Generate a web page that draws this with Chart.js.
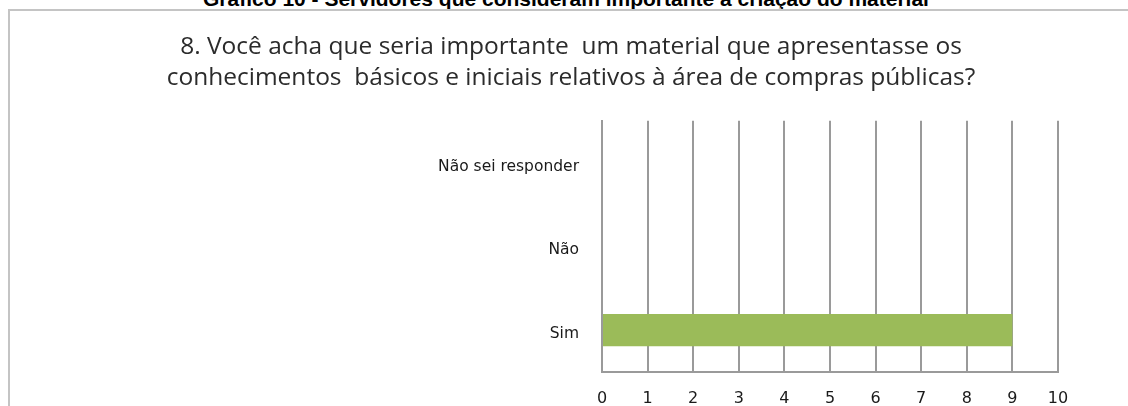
<!DOCTYPE html>
<html>
<head>
<meta charset="utf-8">
<script src="https://cdn.jsdelivr.net/npm/chart.js@4"></script>
<style>
  html, body { margin: 0; padding: 0; background: #fff; }
  body { width: 1128px; height: 406px; position: relative; overflow: hidden; }
  #heading {
    position: absolute; left: 0; width: 1128px; top: -12px;
    text-align: center; font: bold 21px "Liberation Sans", Arial, sans-serif;
    line-height: 21px; color: #000; padding-left: 2px;
  }
  #frame {
    position: absolute; left: 8px; top: 9px; width: 1140px; height: 420px;
    border: 2px solid #c4c4c4; box-sizing: border-box;
  }
  #wrap { position: absolute; left: 0; top: 0; width: 1128px; height: 406px; }
</style>
</head>
<body>
<div id="heading">Gráfico 10 - Servidores que consideram importante a criação do material</div>
<div id="frame"></div>
<div id="wrap"><canvas id="grafico"></canvas></div>
<script>
// respostas da pergunta 8
const categorias = ['Não sei responder', 'Não', 'Sim'];
const respostas = [0, 0, 9];
const ticksX = [0, 1, 2, 3, 4, 5, 6, 7, 8, 9, 10];

new Chart(document.getElementById('grafico').getContext('2d'), {
    type: 'bar',
    data: {
        labels: categorias,
        datasets: [{
            data: respostas,
            backgroundColor: '#9bbb59',
            borderWidth: 0,
            categoryPercentage: 1,
            barPercentage: 0.385
        }]
    },
    options: {
        indexAxis: 'y',
        responsive: true,
        maintainAspectRatio: false,
        animation: false,
        // padding esquerda/direita para centrar o titulo em x=571
        layout: { padding: { left: 84, right: 70, top: 0, bottom: 0 } },
        plugins: {
            legend: { display: false },
            tooltip: { enabled: false },
            title: {
                display: true,
                text: ['8. Você acha que seria importante  um material que apresentasse os',
                       'conhecimentos  básicos e iniciais relativos à área de compras públicas?'],
                font: { family: 'Open Sans', size: 24.5, weight: 'normal', lineHeight: 1.24 },
                color: '#2b2b2b',
                padding: { top: 32, bottom: 28 }
            }
        },
        scales: {
            x: {
                min: 0,
                max: 10,
                afterBuildTicks: (scale) => { scale.ticks = ticksX.map(v => ({ value: v })); },
                afterFit: (scale) => { scale.height = 34; },
                grid: { color: '#9a9a9a', lineWidth: 2, drawTicks: false },
                border: { display: true, color: '#9a9a9a', width: 2 },
                ticks: {
                    padding: 17,
                    color: '#1a1a1a',
                    font: { family: 'DejaVu Sans', size: 16 }
                }
            },
            y: {
                afterFit: (scale) => { scale.width = 518; },
                grid: { display: false, drawTicks: false },
                border: { display: true, color: '#9a9a9a', width: 2 },
                ticks: {
                    padding: 23,
                    labelOffset: 4,
                    color: '#1a1a1a',
                    font: { family: 'DejaVu Sans', size: 15.5 }
                }
            }
        }
    }
});
</script>
</body>
</html>
